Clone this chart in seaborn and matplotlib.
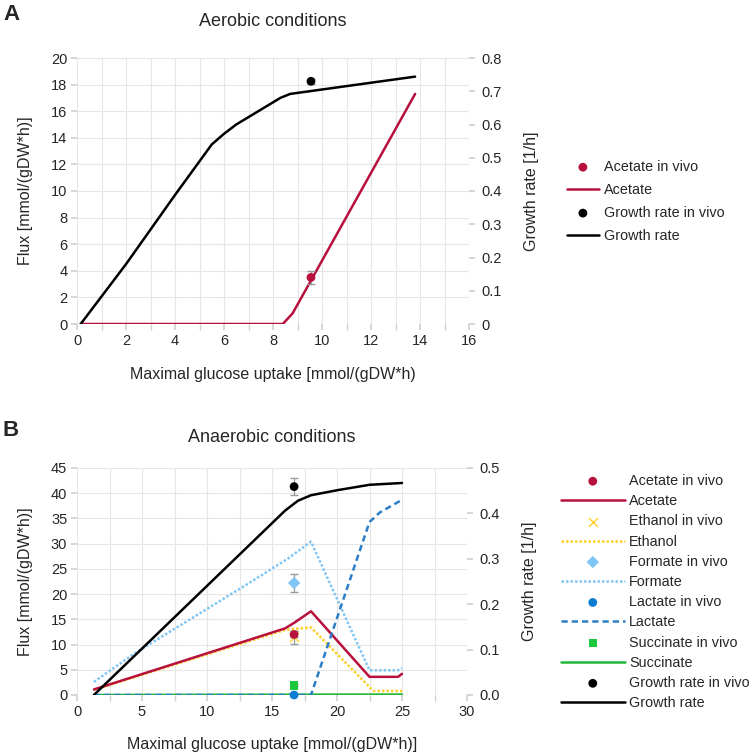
import matplotlib
matplotlib.use("Agg")
import matplotlib.pyplot as plt
import seaborn as sns
import numpy as np
from matplotlib.lines import Line2D

sns.set_theme(style="white")
plt.rcParams['font.family'] = ['Liberation Sans', 'DejaVu Sans']

# ---------------- Panel A data (aerobic) ----------------
a_growth_x = [0.15, 2, 4, 5.5, 6, 6.5, 8.3, 8.7, 13.8]
a_growth = [0.0, 0.18, 0.388, 0.54, 0.572, 0.6, 0.68, 0.692, 0.744]
a_acet_x = [0.15, 8.4, 8.8, 13.8]
a_acet = [0.0, 0.0, 0.8, 17.3]
a_vivo_x = 9.55
a_acet_vivo, a_acet_err = 3.5, 0.5
a_growth_vivo, a_growth_err = 0.73, 0.008

# ---------------- Panel B data (anaerobic) ----------------
b_growth_x = [1.3, 16, 17, 18, 20, 22.5, 25]
b_growth = [0.0, 0.406, 0.428, 0.44, 0.451, 0.463, 0.467]
b_acet_x = [1.3, 16, 16.7, 18, 22.5, 24.7, 25]
b_acet = [1.1, 13.2, 14.3, 16.6, 3.6, 3.6, 4.2]
b_eth_x = [1.3, 16, 18, 22.8, 25]
b_eth = [1.0, 12.9, 13.4, 0.8, 0.8]
b_form_x = [1.3, 4.4, 12.8, 16.2, 18, 22.5, 24.7, 25]
b_form = [2.6, 8.2, 21.5, 27.0, 30.4, 4.9, 4.9, 5.3]
b_lact_x = [1.3, 18, 22.5, 23.3, 25]
b_lact = [0.0, 0.0, 34.3, 36.2, 38.7]
b_succ_x = [1.3, 25]
b_succ = [0.0, 0.1]
b_vivo_x = 16.7
b_vivo = {"Acetate": (12.0, 0.6), "Ethanol": (11.4, 1.2), "Formate": (22.2, 1.75),
          "Lactate": (0.0, 0.0), "Succinate": (1.9, 0.2)}
b_growth_vivo, b_growth_err = 0.459, 0.019

C_ACET = '#b8103c'
C_ETH = '#ffcf26'
C_FORM = '#80c6f5'
C_LACT = '#2a7fc6'
C_LACT_V = '#0b7dd0'
C_SUCC = '#22b83a'
C_SUCC_V = '#19c83c'
GRID = '#e6e6e6'
ERR = '#9a9a9a'

fig = plt.figure(figsize=(7.5, 7.53), dpi=100)
W, H = 750, 753

def ax_rect(l, t, r, b):
    return [l / W, 1 - b / H, (r - l) / W, (b - t) / H]

FS_TICK = 10.5
FS_LAB = 11.5
FS_TITLE = 13
FS_LEG = 10.4

def style_axes(ax, ax2):
    for a in (ax, ax2):
        for s in a.spines.values():
            s.set_visible(False)
    ax.tick_params(axis='both', which='both', length=4, color='#d0d0d0',
                   labelsize=FS_TICK, pad=3, left=True, bottom=True)
    ax2.tick_params(axis='y', length=4, color='#d0d0d0', labelsize=FS_TICK, pad=5, right=True)
    ax2.grid(False)
    ax.set_axisbelow(True)

# ================= Panel A =================
axA = fig.add_axes(ax_rect(77, 58, 469, 324))
axA2 = axA.twinx()
axA.set_xlim(0, 16)
axA.set_ylim(0, 20)
axA2.set_ylim(0, 0.8)
axA.set_xticks(np.arange(0, 17, 2))
axA.set_xticks(np.arange(0, 17, 1), minor=True)
axA.set_yticks(np.arange(0, 21, 2))
axA2.set_yticks(np.arange(0, 0.81, 0.1))
axA2.set_yticklabels(['0'] + [f'{v:.1f}' for v in np.arange(0.1, 0.81, 0.1)])
axA.grid(True, which='both', color=GRID, linewidth=0.8)
axA.tick_params(axis='x', which='minor', length=0)
style_axes(axA, axA2)

axA.errorbar([a_vivo_x], [a_acet_vivo], yerr=[a_acet_err], fmt='none', ecolor=ERR,
             elinewidth=0.9, capsize=3, zorder=3)
sns.scatterplot(x=[a_vivo_x], y=[a_acet_vivo], ax=axA, color=C_ACET, s=40,
                marker='o', edgecolor='none', label='Acetate in vivo', zorder=4)
sns.lineplot(x=a_acet_x, y=a_acet, ax=axA, color=C_ACET, linewidth=1.8,
             label='Acetate', estimator=None, sort=False)
axA2.errorbar([a_vivo_x], [a_growth_vivo], yerr=[a_growth_err], fmt='none', ecolor=ERR,
              elinewidth=0.9, capsize=3, zorder=3)
sns.scatterplot(x=[a_vivo_x], y=[a_growth_vivo], ax=axA2, color='black', s=40,
                marker='o', edgecolor='none', label='Growth rate in vivo', zorder=4)
sns.lineplot(x=a_growth_x, y=a_growth, ax=axA2, color='black', linewidth=1.8,
             label='Growth rate', estimator=None, sort=False)

axA.set_xlabel('Maximal glucose uptake [mmol/(gDW*h)', fontsize=FS_LAB, labelpad=14)
axA.set_ylabel('Flux [mmol/(gDW*h)]', fontsize=FS_LAB, labelpad=13)
axA2.set_ylabel('Growth rate [1/h]', fontsize=FS_LAB, labelpad=16)
axA.set_title('Aerobic conditions', fontsize=FS_TITLE, pad=23)

hA, lA = axA.get_legend_handles_labels()
hA2, lA2 = axA2.get_legend_handles_labels()
for a in (axA, axA2):
    if a.get_legend():
        a.get_legend().remove()
fig.legend(hA + hA2, lA + lA2, loc='upper left', bbox_to_anchor=(567 / W, 1 - 160 / H),
           frameon=False, fontsize=FS_LEG, handlelength=2.2, handletextpad=0.35,
           labelspacing=0.62, borderpad=0, borderaxespad=0)

# ================= Panel B =================
axB = fig.add_axes(ax_rect(77, 468, 467, 695))
axB2 = axB.twinx()
axB.set_xlim(0, 30)
axB.set_ylim(0, 45)
axB2.set_ylim(0, 0.5)
axB.set_xticks(np.arange(0, 31, 5))
axB.set_xticks(np.arange(0, 31, 2.5), minor=True)
axB.set_yticks(np.arange(0, 46, 5))
axB2.set_yticks(np.arange(0, 0.51, 0.1))
axB2.set_yticklabels([f'{v:.1f}' for v in np.arange(0, 0.51, 0.1)])
axB.grid(True, which='both', color=GRID, linewidth=0.8)
axB.tick_params(axis='x', which='minor', length=0)
style_axes(axB, axB2)

vx = [b_vivo_x]
for name in ["Formate", "Ethanol", "Acetate", "Succinate"]:
    v, e = b_vivo[name]
    axB.errorbar(vx, [v], yerr=[e], fmt='none', ecolor=ERR, elinewidth=0.9, capsize=3, zorder=3)

sns.scatterplot(x=vx, y=[b_vivo["Acetate"][0]], ax=axB, color=C_ACET, s=40, marker='o',
                edgecolor='none', label='Acetate in vivo', zorder=5)
sns.lineplot(x=b_eth_x, y=b_eth, ax=axB, color=C_ETH, linewidth=1.8, linestyle=(0, (1, 0.8)),
             estimator=None, sort=False, zorder=2)
sns.lineplot(x=b_acet_x, y=b_acet, ax=axB, color=C_ACET, linewidth=1.8,
             label='Acetate', estimator=None, sort=False, zorder=2.5)
sns.scatterplot(x=vx, y=[b_vivo["Ethanol"][0]], ax=axB, color=C_ETH, s=40, marker='x',
                linewidth=1.0, label='Ethanol in vivo', zorder=4)
ln_eth = Line2D([], [], color=C_ETH, linewidth=1.8, linestyle=(0, (1, 0.8)))
sns.scatterplot(x=vx, y=[b_vivo["Formate"][0]], ax=axB, color=C_FORM, s=40, marker='D',
                edgecolor='none', label='Formate in vivo', zorder=5)
sns.lineplot(x=b_form_x, y=b_form, ax=axB, color=C_FORM, linewidth=1.8, linestyle=(0, (1, 0.8)),
             label='Formate', estimator=None, sort=False, zorder=2)
sns.lineplot(x=b_succ_x, y=b_succ, ax=axB, color=C_SUCC, linewidth=1.8,
             label='Succinate', estimator=None, sort=False, zorder=2)
sns.lineplot(x=b_lact_x, y=b_lact, ax=axB, color=C_LACT, linewidth=1.8, linestyle=(0, (2.5, 1.6)),
             label='Lactate', estimator=None, sort=False, zorder=2.6)
sns.scatterplot(x=vx, y=[b_vivo["Lactate"][0]], ax=axB, color=C_LACT_V, s=40, marker='o',
                edgecolor='none', label='Lactate in vivo', zorder=6, clip_on=False)
sns.scatterplot(x=vx, y=[b_vivo["Succinate"][0]], ax=axB, color=C_SUCC_V, s=36, marker='s',
                edgecolor='none', label='Succinate in vivo', zorder=5)

axB2.errorbar(vx, [b_growth_vivo], yerr=[b_growth_err], fmt='none', ecolor=ERR,
              elinewidth=0.9, capsize=3, zorder=3)
sns.scatterplot(x=vx, y=[b_growth_vivo], ax=axB2, color='black', s=40, marker='o',
                edgecolor='none', label='Growth rate in vivo', zorder=4)
sns.lineplot(x=b_growth_x, y=b_growth, ax=axB2, color='black', linewidth=1.8,
             label='Growth rate', estimator=None, sort=False)

axB.set_xlabel('Maximal glucose uptake [mmol/(gDW*h)]', fontsize=FS_LAB, labelpad=13)
axB.set_ylabel('Flux [mmol/(gDW*h)]', fontsize=FS_LAB, labelpad=13)
axB2.set_ylabel('Growth rate [1/h]', fontsize=FS_LAB, labelpad=16)
axB.set_title('Anaerobic conditions', fontsize=FS_TITLE, pad=19)

hB, lB = axB.get_legend_handles_labels()
hB2, lB2 = axB2.get_legend_handles_labels()
for a in (axB, axB2):
    if a.get_legend():
        a.get_legend().remove()
hmap = dict(zip(lB + lB2, hB + hB2))
hmap['Ethanol'] = ln_eth
order = ['Acetate in vivo', 'Acetate', 'Ethanol in vivo', 'Ethanol', 'Formate in vivo', 'Formate',
         'Lactate in vivo', 'Lactate', 'Succinate in vivo', 'Succinate',
         'Growth rate in vivo', 'Growth rate']
fig.legend([hmap[k] for k in order], order, loc='upper left',
           bbox_to_anchor=(561 / W, 1 - 474 / H), frameon=False, fontsize=FS_LEG,
           handlelength=4.4, handletextpad=0.3, labelspacing=0.43, borderpad=0, borderaxespad=0)

fig.text(3 / W, 1 - 4 / H, 'A', fontsize=16, fontweight='bold', va='top', ha='left')
fig.text(3 / W, 1 - 420 / H, 'B', fontsize=16, fontweight='bold', va='top', ha='left')

fig.savefig('out.png', dpi=100)
